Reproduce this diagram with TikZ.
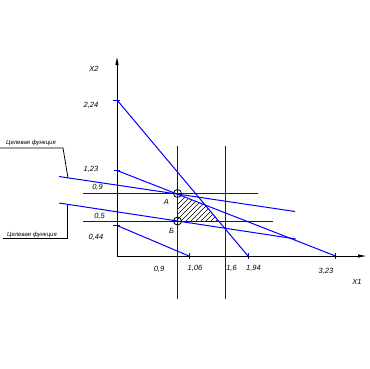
\documentclass[tikz,border=0pt]{standalone}
\usepackage{fontspec}
\setmainfont{Liberation Sans}
\usetikzlibrary{arrows.meta}
\begin{document}
\begin{tikzpicture}[x=1pt,y=-1pt,
  axis/.style={line width=1pt,-{Triangle[length=8pt,width=3pt]}},
  bl/.style={blue,line width=1pt},
  lbl/.style={font=\fontsize{7.5}{8}\selectfont\itshape,inner sep=0pt},
  smalltxt/.style={font=\fontsize{6}{6.5}\selectfont\itshape,inner sep=0pt},
  lead/.style={black,line width=0.8pt},
  ptcirc/.style={black,line width=0.8pt},
  hatchln/.style={black,line width=0.5pt}]
\fill[white] (0,0) rectangle (370,368);
\useasboundingbox (0,0) rectangle (370,368);
% key points
\coordinate (O) at (117,256);
\coordinate (Ytop) at (117,57);
\coordinate (Xend) at (366,256);
\coordinate (Y224) at (117,100);
\coordinate (Y123) at (117,170.5);
\coordinate (Y044) at (117,225.5);
\coordinate (X106) at (189,256);
\coordinate (X194) at (248,256);
\coordinate (X323) at (335.5,256);
\coordinate (A) at (177.5,193.5);
\coordinate (B) at (177.5,221);
\coordinate (H9a) at (83,193.5);
\coordinate (H9b) at (258,193.5);
\coordinate (H5a) at (83,221);
\coordinate (H5b) at (273,221);
\coordinate (V9a) at (177.5,146);
\coordinate (V9b) at (177.5,299);
\coordinate (V16a) at (225.5,146);
\coordinate (V16b) at (225.5,299);
\coordinate (F1a) at (59,176.5);
\coordinate (F1b) at (295,211.5);
\coordinate (F2a) at (59,203);
\coordinate (F2b) at (296,239);
\coordinate (L1a) at (0,148);
\coordinate (L1b) at (63,148);
\coordinate (L1c) at (68,178);
\coordinate (L2a) at (3,238.5);
\coordinate (L2b) at (67,238.5);
\coordinate (L2c) at (67,204.5);
% hatched region
\begin{scope}
  \clip (177.5,194.2) -- (205.2,205) -- (218.6,221) -- (177.5,221) -- cycle;
  \foreach \i in {150,155,...,240} \draw[hatchln] (\i,232) -- ++(50,-50);
\end{scope}
% constraint lines
\draw[bl] (Y224) -- (X194);
\draw[bl] (Y123) -- (X323);
\draw[bl] (Y044) -- (X106);
\draw[bl] (H9a) -- (H9b);
\draw[bl] (H5a) -- (H5b);
\draw[bl] (V9a) -- (V9b);
\draw[bl] (V16a) -- (V16b);
\draw[bl] (F1a) -- (F1b);
\draw[bl] (F2a) -- (F2b);
% ticks
\draw[bl] (Y224) ++(-4,0) -- ++(7,0);
\draw[bl] (Y123) ++(-3,0) -- ++(6,0);
\draw[bl] (Y044) ++(-4,0) -- ++(7,0);
\draw[bl] (X106) ++(0,-3) -- ++(0,6);
\draw[bl] (X194) ++(0,-3) -- ++(0,6);
\draw[bl] (X323) ++(0,-3) -- ++(0,6);
% axes
\draw[axis] (O) -- (Ytop);
\draw[axis] (O) -- (Xend);
% points
\draw[ptcirc] (A) circle[radius=4pt];
\draw[ptcirc] (B) circle[radius=4pt];
% leaders
\draw[lead] (L1a) -- (L1b) -- (L1c);
\draw[lead] (L2a) -- (L2b) -- (L2c);
% labels
\node[smalltxt] (cf1) at (31,143) {Целевая функция};
\node[smalltxt] (cf2) at (32,234.5) {Целевая функция};
\node[lbl] (lx2) at (94,69) {X2};
\node[lbl] (l224) at (91,105) {2,24};
\node[lbl] (l123) at (91,169) {1,23};
\node[lbl] (l09y) at (97.5,187.5) {0,9};
\node[lbl] (l05y) at (99.5,216) {0,5};
\node[lbl] (l044) at (96,237) {0,44};
\node[lbl] (l09x) at (159,269) {0,9};
\node[lbl] (l106) at (195,268) {1,06};
\node[lbl] (l16) at (231.5,268) {1,6};
\node[lbl] (l194) at (253.5,268) {1,94};
\node[lbl] (l323) at (326,271) {3,23};
\node[lbl] (lx1) at (357,282) {X1};
\node[lbl] (lA) at (166.5,202) {А};
\node[lbl] (lB) at (171.5,230.5) {Б};
\end{tikzpicture}
\end{document}
